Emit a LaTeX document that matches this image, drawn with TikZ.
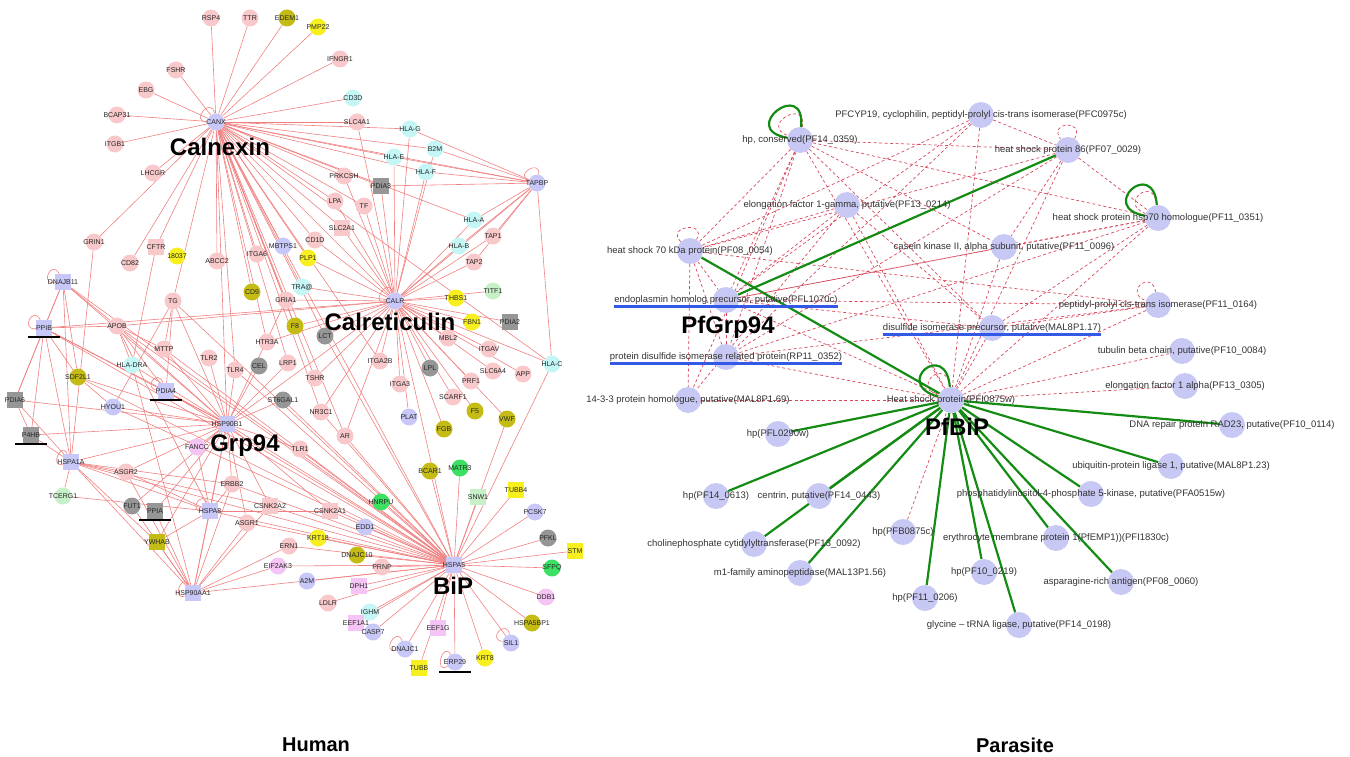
\documentclass[tikz,border=0pt]{standalone}
\usepackage{fontspec}
\setmainfont{Liberation Sans}
\usetikzlibrary{backgrounds}
\definecolor{hpk}{RGB}{248,200,202}
\definecolor{hlv}{RGB}{200,200,248}
\definecolor{hcy}{RGB}{196,246,246}
\definecolor{hyl}{RGB}{248,240,30}
\definecolor{hol}{RGB}{196,188,20}
\definecolor{hgy}{RGB}{150,150,150}
\definecolor{hlg}{RGB}{200,240,200}
\definecolor{hgr}{RGB}{60,225,100}
\definecolor{hvi}{RGB}{244,196,244}
\definecolor{hedgec}{RGB}{240,128,128}
\definecolor{pnode}{RGB}{200,200,244}
\definecolor{pdash}{RGB}{215,70,90}
\definecolor{pgreen}{RGB}{20,140,20}
\definecolor{pblue}{RGB}{50,90,230}
\begin{document}
\begin{tikzpicture}[x=1pt,y=-1pt,
  hc/.style={circle,minimum size=17pt,inner sep=0pt},
  hq/.style={rectangle,minimum size=16pt,inner sep=0pt},
  pk/.style={hc,fill=hpk}, pkq/.style={hq,fill=hpk},
  lv/.style={hc,fill=hlv}, lvq/.style={hq,fill=hlv},
  cy/.style={hc,fill=hcy},
  yl/.style={hc,fill=hyl}, ylq/.style={hq,fill=hyl},
  ol/.style={hc,fill=hol}, olq/.style={hq,fill=hol},
  gy/.style={hc,fill=hgy}, gyq/.style={hq,fill=hgy},
  lg/.style={hc,fill=hlg}, lgq/.style={hq,fill=hlg},
  gr/.style={hc,fill=hgr},
  vi/.style={hc,fill=hvi}, viq/.style={hq,fill=hvi},
  hlab/.style={inner sep=0pt,font=\fontsize{7}{8}\selectfont,text=black!85},
  hedge/.style={draw=hedgec,line width=0.6pt},
  ul/.style={draw=black,line width=1.6pt},
  big/.style={inner sep=0pt,font=\fontsize{24}{28}\selectfont\bfseries},
  pn/.style={circle,minimum size=26pt,inner sep=0pt,fill=pnode},
  plab/.style={inner sep=0pt,font=\fontsize{9.5}{11}\selectfont,text=black!80},
  pdashed/.style={draw=pdash,line width=0.7pt,dash pattern=on 3pt off 2.5pt},
  pgr/.style={draw=pgreen,line width=2.2pt},
  pbl/.style={draw=pblue,line width=2.5pt},
  ttl/.style={inner sep=0pt,font=\fontsize{20}{24}\selectfont\bfseries}
]
\useasboundingbox (0,0) rectangle (1350,757);

% ---------------- HUMAN ----------------
\def\hnodes{RSP4/211/18/pk/RSP4, TTR/250/18/pk/TTR, EDEM1/287/18/ol/EDEM1, PMP22/318/27/yl/PMP22,
FSHR/176/70/pk/FSHR, EBG/146/90/pk/EBG, BCAP31/117/115/pk/BCAP31, CANX/216/122/lv/CANX,
ITGB1/115/144/pk/ITGB1, LHCGR/153/173/pk/LHCGR, IFNGR1/340/59/pk/IFNGR1, CD3D/353/98/cy/CD3D,
SLC4A1/357/122/pk/SLC4A1, HLAG/410/129/cy/HLA-G, B2M/435/149/cy/B2M, HLAE/394/157/cy/HLA-E,
HLAF/426/172/cy/HLA-F, PRKCSH/344/176/pk/PRKCSH, PDIA3/381/186/gyq/PDIA3, TAPBP/537/183/lv/TAPBP,
LPA/335/201/pk/LPA, TF/364/206/pk/TF, HLAA/474/220/cy/HLA-A, SLC2A1/342/228/pkq/SLC2A1,
TAP1/493/236/pk/TAP1, HLAB/459/246/cy/HLA-B, TAP2/474/262/pk/TAP2, CD1D/315/240/pk/CD1D,
GRIN1/94/242/pk/GRIN1, CFTR/156/247/pkq/CFTR, I18037/177/256/yl/18037, CD82/130/263/pk/CD82,
ABCC2/217/261/pk/ABCC2, ITGA6/257/254/pk/ITGA6, MBTPS1/283/246/lv/MBTPS1, PLP1/308/258/yl/PLP1,
DNAJB11/63/282/lvq/DNAJB11, TG/173/301/pk/TG, CD9/252/292/ol/CD9, TRA/302/287/cy/TRA@,
GRIA1/286/300/pk/GRIA1, CALR/395/301/lv/CALR, THBS1/456/298/yl/THBS1, TITF1/493/291/lg/TITF1,
PPIB/44/328/lvq/PPIB, APOB/117/326/pk/APOB, F8/295/326/ol/F8, FBN1/472/322/yl/FBN1,
PDIA2/510/322/gyq/PDIA2, LCT/325/336/gy/LCT, MBL2/448/338/pk/MBL2, HTR3A/267/342/pk/HTR3A,
MTTP/164/349/pk/MTTP, ITGAV/489/349/pk/ITGAV, HLADRA/132/365/cy/HLA-DRA, TLR2/209/358/pk/TLR2,
TLR4/235/370/pk/TLR4, CEL/259/366/gy/CEL, LRP1/288/363/pk/LRP1, ITGA2B/380/361/pk/ITGA2B,
HLAC/552/364/cy/HLA-C, LPL/430/368/gy/LPL, SLC6A4/493/371/pk/SLC6A4, APP/523/374/pk/APP,
SDF2L1/78/377/ol/SDF2L1, TSHR/315/378/pk/TSHR, PRF1/471/381/pk/PRF1, ITGA3/400/384/pk/ITGA3,
PDIA4/166/391/lvq/PDIA4, PDIA6/15/400/gyq/PDIA6, ST6GAL1/283/400/gy/ST6GAL1, SCARF1/453/397/pk/SCARF1,
HYOU1/113/407/lv/HYOU1, NR3C1/321/412/pk/NR3C1, F5/475/411/ol/F5, PLAT/409/417/lv/PLAT,
VWF/507/419/ol/VWF, HSP90B1/227/424/lvq/HSP90B1, FGB/444/429/ol/FGB, P4HB/31/435/gyq/P4HB,
AR/345/436/pk/AR, FANCC/197/447/vi/FANCC, TLR1/300/449/pk/TLR1, HSPA1A/71/462/lvq/HSPA1A,
ASGR2/126/472/pk/ASGR2, BCAR1/430/471/ol/BCAR1, MATR3/460/468/gr/MATR3, ERBB2/232/484/pk/ERBB2,
TUBB4/516/490/ylq/TUBB4, TCERG1/63/496/lg/TCERG1, SNW1/478/497/lgq/SNW1, HNRPU/381/502/gr/HNRPU,
FUT1/132/506/gy/FUT1, CSNK2A2/270/506/pkq/CSNK2A2, PPIA/155/511/gyq/PPIA, HSPA8/210/511/lvq/HSPA8,
CSNK2A1/330/511/pkq/CSNK2A1, PCSK7/535/512/lv/PCSK7, ASGR1/247/523/pk/ASGR1, EDD1/365/527/lv/EDD1,
KRT18/318/538/yl/KRT18, PFKL/548/538/gy/PFKL, YWHAB/157/542/olq/YWHAB, ERN1/289/546/pk/ERN1,
STM/575/551/ylq/STM, DNAJC10/357/555/ol/DNAJC10, HSPA5/454/565/lvq/HSPA5, EIF2AK3/278/566/vi/EIF2AK3,
PRNP/382/567/pk/PRNP, SFPQ/552/568/gr/SFPQ, A2M/307/581/lv/A2M, DPH1/359/586/viq/DPH1,
HSP90AA1/193/593/lvq/HSP90AA1, DDB1/546/597/vi/DDB1, LDLR/328/603/pk/LDLR, IGHM/370/612/cy/IGHM,
CASP7/373/632/lv/CASP7, EEF1A1/356/623/viq/EEF1A1, HSPA5BP1/532/623/ol/HSPA5BP1, EEF1G/438/628/viq/EEF1G,
SIL1/511/643/lv/SIL1, DNAJC1/405/649/lv/DNAJC1, KRT8/485/658/yl/KRT8, ERP29/455/662/lv/ERP29,
TUBB/419/668/ylq/TUBB}
\foreach \n/\x/\y/\s/\t in \hnodes { \node[\s] (\n) at (\x,\y) {}; }
\foreach \n/\x/\y/\s/\t in \hnodes { \node[hlab] (\n-t) at (\n) {\t}; }

% underlines
\foreach \n in {PPIB,PDIA4,P4HB,PPIA,ERP29}
  \draw[ul] ([xshift=-16pt,yshift=-1pt]\n.south) -- ([xshift=16pt,yshift=-1pt]\n.south);

% big labels
\node[big] (lCalnexin) at (220,147) {Calnexin};
\node[big] (lCalret) at (390,322) {Calreticulin};
\node[big] (lGrp94) at (245,446) {Grp94};
\node[big] (lBiP) at (453,586) {BiP};

\begin{scope}[on background layer]
\foreach \b in {RSP4,TTR,EDEM1,PMP22,FSHR,EBG,BCAP31,ITGB1,LHCGR,IFNGR1,CD3D,SLC4A1,HLAG,B2M,HLAE,HLAF,PRKCSH,PDIA3,TAPBP,LPA,TF,SLC2A1,CD1D,MBTPS1,ITGA6,ABCC2,CFTR,CD82,GRIN1,TG,GRIA1,PLP1,CALR,HSPA5,HTR3A,LRP1,TSHR,HSP90B1,TRA,CD9,NR3C1,ITGA2B,HLAA,HLAC,LCT,F8,AR,TLR4}
  \draw[hedge] (CANX) -- (\b);
\foreach \b in {HLAA,HLAB,TAP1,TAP2,TAPBP,THBS1,TITF1,FBN1,PDIA2,MBL2,ITGAV,HLAC,ITGA2B,LPL,SLC6A4,APP,ITGA3,PRF1,SCARF1,F5,VWF,PLAT,FGB,LCT,CD1D,PLP1,SLC2A1,TF,LPA,HLAE,HLAF,HLAG,B2M,PDIA3,HSPA5,F8,TRA,GRIA1,PRKCSH,SLC4A1,PPIB,HSP90B1,TSHR,NR3C1,AR,APOB,HTR3A}
  \draw[hedge] (CALR) -- (\b);
\foreach \b in {HLAG,B2M,HLAF,HLAE,PDIA3,HLAA,HLAB,TAP1,TAP2,HLAC}
  \draw[hedge] (TAPBP) -- (\b);
\foreach \b in {DNAJB11,PPIB,APOB,MTTP,HLADRA,PDIA4,HYOU1,SDF2L1,TG,TLR2,TLR4,LRP1,ST6GAL1,HSPA1A,HSPA8,HSP90AA1,ERBB2,ASGR1,ASGR2,CSNK2A2,FANCC,TLR1,P4HB,PDIA6,HSPA5,YWHAB,FUT1,PPIA,CEL,GRIA1,CSNK2A1}
  \draw[hedge] (HSP90B1) -- (\b);
\foreach \b in {BCAR1,MATR3,SNW1,TUBB4,PCSK7,PFKL,STM,SFPQ,DDB1,HSPA5BP1,SIL1,KRT8,ERP29,TUBB,DNAJC1,EEF1G,CASP7,EEF1A1,IGHM,LDLR,DPH1,A2M,PRNP,DNAJC10,KRT18,EDD1,HNRPU,CSNK2A1,EIF2AK3,ERN1,ASGR1,HSP90AA1,HSPA8,HSPA1A,DNAJB11,PPIB,APOB,HLAC,TLR4,CSNK2A2,TLR1,NR3C1,AR,ST6GAL1,LCT,TG,HYOU1,PDIA4,SDF2L1,VWF,ERBB2,MTTP}
  \draw[hedge] (HSPA5) -- (\b);
\foreach \a/\b in {DNAJB11/PPIB,DNAJB11/SDF2L1,DNAJB11/PDIA6,DNAJB11/APOB,DNAJB11/HSPA1A,PPIB/PDIA6,PPIB/P4HB,PPIB/SDF2L1,PPIB/HSPA1A,PPIB/APOB,PPIB/PDIA4,GRIN1/HSPA1A,APOB/MTTP,APOB/HLADRA,APOB/PDIA4,APOB/HSPA8,TG/MTTP,TG/HYOU1,TG/PDIA4,CFTR/HLADRA,HSPA1A/TCERG1,HSPA1A/HSP90AA1,HSPA1A/ASGR2,HSPA1A/YWHAB,HSPA1A/P4HB,HSPA1A/PDIA6,HSPA1A/HSPA8,HSPA1A/ERBB2,HSPA1A/CSNK2A2,HSP90AA1/YWHAB,HSP90AA1/FUT1,HSP90AA1/PPIA,HSP90AA1/HSPA8,HSP90AA1/ERBB2,HSP90AA1/ASGR1,HSP90AA1/CSNK2A2,HSP90AA1/EIF2AK3,HSP90AA1/ERN1,HSP90AA1/ASGR2,HSPA8/YWHAB,HSPA8/ASGR2,HSPA8/FANCC,TCERG1/HSPA8,HSPA8/CSNK2A1,HSPA8/ERBB2,P4HB/PDIA6,SDF2L1/HYOU1,HLADRA/HSP90AA1}
  \draw[hedge] (\a) -- (\b);
% self loops
\draw[hedge] (CANX) to[out=100,in=180,min distance=18pt] (CANX);
\draw[hedge] (CALR) to[out=105,in=190,min distance=18pt] (CALR);
\draw[hedge] (TAPBP) to[out=80,in=160,min distance=16pt] (TAPBP);
\draw[hedge] (DNAJB11) to[out=115,in=185,min distance=16pt] (DNAJB11);
\draw[hedge] (PPIB) to[out=115,in=185,min distance=16pt] (PPIB);
\draw[hedge] (PDIA4) to[out=110,in=175,min distance=16pt] (PDIA4);
\draw[hedge] (HSPA1A) to[out=115,in=195,min distance=14pt] (HSPA1A);
\draw[hedge] (HSPA8) to[out=110,in=180,min distance=14pt] (HSPA8);
\draw[hedge] (HSP90AA1) to[out=120,in=200,min distance=14pt] (HSP90AA1);
\draw[hedge] (SIL1) to[out=100,in=170,min distance=16pt] (SIL1);
\draw[hedge] (DNAJC1) to[out=110,in=190,min distance=16pt] (DNAJC1);
\draw[hedge] (ERP29) to[out=120,in=210,min distance=16pt] (ERP29);
\end{scope}

% ---------------- PARASITE ----------------
\node[pn] (pCYP) at (981,115) {};
\node[pn] (pHPC) at (800,140) {};
\node[pn] (pH86) at (1068,150) {};
\node[pn] (pEF1G) at (847,205) {};
\node[pn] (pH70h) at (1158,218) {};
\node[pn] (pH70k) at (690,251) {};
\node[pn] (pCK2) at (1004,247) {};
\node[pn] (pEND) at (726,300) {};
\node[pn] (pPPI) at (1158,305) {};
\node[pn] (pPDIm) at (992,328) {};
\node[pn] (pTUB) at (1182,351) {};
\node[pn] (pPDIr) at (726,357) {};
\node[pn] (pEF1A) at (1185,386) {};
\node[pn] (p1433) at (688,400) {};
\node[pn] (pBIP) at (951,400) {};
\node[pn] (pRAD) at (1232,425) {};
\node[pn] (pHPL) at (778,434) {};
\node[pn] (pUBQ) at (1171,466) {};
\node[pn] (pPIP5) at (1091,494) {};
\node[pn] (pHP613) at (716,496) {};
\node[pn] (pCEN) at (819,496) {};
\node[pn] (pPFB) at (903,532) {};
\node[pn] (pEMP) at (1056,538) {};
\node[pn] (pCHO) at (754,544) {};
\node[pn] (pHP219) at (984,572) {};
\node[pn] (pM1) at (800,573) {};
\node[pn] (pASN) at (1121,582) {};
\node[pn] (pHP206) at (925,598) {};
\node[pn] (pGLY) at (1019,625) {};

\node[plab] (pCYP-t) at (pCYP) {PFCYP19, cyclophilin, peptidyl-prolyl cis-trans isomerase(PFC0975c)};
\node[plab] (pHPC-t) at (pHPC) {hp, conserved(PF14\_0359)};
\node[plab] (pH86-t) at (pH86) {heat shock protein 86(PF07\_0029)};
\node[plab] (pEF1G-t) at (pEF1G) {elongation factor 1-gamma, putative(PF13\_0214)};
\node[plab] (pH70h-t) at (pH70h) {heat shock protein hsp70 homologue(PF11\_0351)};
\node[plab] (pH70k-t) at (pH70k) {heat shock 70 kDa protein(PF08\_0054)};
\node[plab] (pCK2-t) at (pCK2) {casein kinase II, alpha subunit, putative(PF11\_0096)};
\node[plab] (pEND-t) at (pEND) {endoplasmin homolog precursor, putative(PFL1070c)};
\node[plab] (pPPI-t) at (pPPI) {peptidyl-prolyl cis-trans isomerase(PF11\_0164)};
\node[plab] (pPDIm-t) at (pPDIm) {disulfide isomerase precursor, putative(MAL8P1.17)};
\node[plab] (pTUB-t) at (pTUB) {tubulin beta chain, putative(PF10\_0084)};
\node[plab] (pPDIr-t) at (pPDIr) {protein disulfide isomerase related protein(RP11\_0352)};
\node[plab] (pEF1A-t) at (pEF1A) {elongation factor 1 alpha(PF13\_0305)};
\node[plab] (p1433-t) at (p1433) {14-3-3 protein homologue, putative(MAL8P1.69)};
\node[plab] (pBIP-t) at (pBIP) {Heat shock protein(PFI0875w)};
\node[plab] (pRAD-t) at (pRAD) {DNA repair protein RAD23, putative(PF10\_0114)};
\node[plab] (pHPL-t) at (pHPL) {hp(PFL0290w)};
\node[plab] (pUBQ-t) at (pUBQ) {ubiquitin-protein ligase 1, putative(MAL8P1.23)};
\node[plab] (pPIP5-t) at (pPIP5) {phosphatidylinositol-4-phosphate 5-kinase, putative(PFA0515w)};
\node[plab] (pHP613-t) at (pHP613) {hp(PF14\_0613)};
\node[plab] (pCEN-t) at (pCEN) {centrin, putative(PF14\_0443)};
\node[plab] (pPFB-t) at (pPFB) {hp(PFB0875c)};
\node[plab] (pEMP-t) at (pEMP) {erythrocyte membrane protein 1(PfEMP1))(PFI1830c)};
\node[plab] (pCHO-t) at (pCHO) {cholinephosphate cytidylyltransferase(PF13\_0092)};
\node[plab] (pHP219-t) at (pHP219) {hp(PF10\_0219)};
\node[plab] (pM1-t) at (pM1) {m1-family aminopeptidase(MAL13P1.56)};
\node[plab] (pASN-t) at (pASN) {asparagine-rich antigen(PF08\_0060)};
\node[plab] (pHP206-t) at (pHP206) {hp(PF11\_0206)};
\node[plab] (pGLY-t) at (pGLY) {glycine \textendash\ tRNA ligase, putative(PF14\_0198)};

\draw[pbl] ([yshift=-2pt]pEND-t.south west) -- ([yshift=-2pt]pEND-t.south east);
\draw[pbl] ([yshift=-2pt]pPDIr-t.south west) -- ([yshift=-2pt]pPDIr-t.south east);
\draw[pbl] ([yshift=-2pt]pPDIm-t.south west) -- ([yshift=-2pt]pPDIm-t.south east);

\node[big] (lPfGrp94) at (728,327) {PfGrp94};
\node[big] (lPfBiP) at (957,427) {PfBiP};

\begin{scope}[on background layer]
\foreach \a/\b in {pHPC/pH70k,pHPC/pEND,pHPC/pPDIr,pHPC/p1433,pHPC/pCK2,pHPC/pBIP,pHPC/pH86,pHPC/pH70h,pHPC/pPDIm,
 pCYP/pEND,pCYP/pH70k,pCYP/pH86,pCYP/pBIP,pCYP/pPDIr,
 pH86/pEND,pH86/pCK2,pH86/pH70h,pH86/pPDIr,pH86/pBIP,pH86/pH70k,
 pEF1G/pEND,pEF1G/pH70k,pEF1G/pBIP,pEF1G/pPDIm,pEF1G/p1433,
 pH70h/pEND,pH70h/pCK2,pH70h/pPDIm,pH70h/pBIP,pH70h/pPDIr,
 pH70k/pEND,pH70k/pPDIr,pH70k/p1433,pH70k/pPPI,
 pEND/pPDIr,pEND/pPPI,pEND/pPDIm,pEND/pBIP,
 pPDIr/pPPI,pPDIr/pBIP,p1433/pBIP,pPDIm/pBIP,pPDIm/pPPI,pPPI/pBIP,
 pTUB/pBIP,pEF1A/pBIP,pPFB/pBIP,pCK2/pBIP,pCK2/pEND}
  \draw[pdashed] (\a) -- (\b);
\draw[pdashed] (pHPC) to[out=80,in=160,min distance=30pt] (pHPC);
\draw[pdashed] (pH86) to[out=60,in=125,min distance=22pt] (pH86);
\draw[pdashed] (pH70h) to[out=95,in=160,min distance=30pt] (pH70h);
\draw[pdashed] (pH70k) to[out=60,in=135,min distance=22pt] (pH70k);
\draw[pdashed] (pPPI) to[out=100,in=160,min distance=24pt] (pPPI);
\draw[pdashed] (pBIP) to[out=95,in=160,min distance=30pt] (pBIP);
\foreach \b in {pHPL,pRAD,pUBQ,pHP613,pCEN,pPIP5,pEMP,pCHO,pHP219,pASN,pM1,pHP206,pGLY,pH70k}
  \draw[pgr] (pBIP) -- (\b);
\draw[pgr] (pEND) -- (pH86);
\draw[pgr] (pHPC) to[out=85,in=170,min distance=50pt] (pHPC);
\draw[pgr] (pH70h) to[out=95,in=170,min distance=48pt] (pH70h);
\draw[pgr] (pBIP) to[out=95,in=165,min distance=48pt] (pBIP);
\end{scope}

\node[ttl] (tHuman) at (316,745) {Human};
\node[ttl] (tParasite) at (1015,745) {Parasite};
\end{tikzpicture}
\end{document}
